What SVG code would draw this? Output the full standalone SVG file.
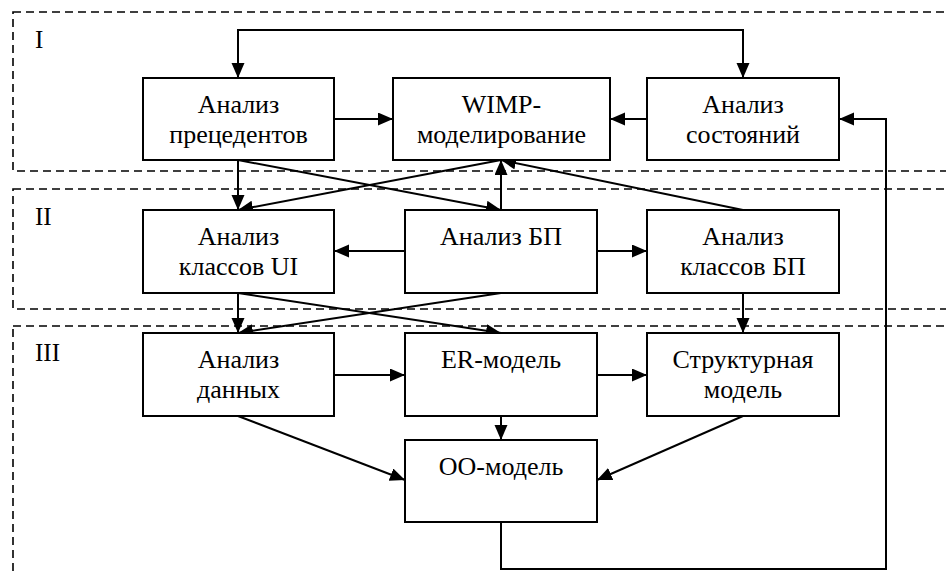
<svg xmlns="http://www.w3.org/2000/svg" width="946" height="576" viewBox="0 0 946 576">
<defs>
<marker id="arr" markerUnits="userSpaceOnUse" markerWidth="16" markerHeight="14" refX="15" refY="6.5" orient="auto-start-reverse">
<path d="M0,0 L15,6.5 L0,13 z" fill="#000"/>
</marker>
<style>
.zone{fill:none;stroke:#000;stroke-width:1.6;stroke-dasharray:8,5}
.box{fill:#fff;stroke:#000;stroke-width:2}
.c{fill:none;stroke:#000;stroke-width:2;marker-end:url(#arr)}
text{font-family:"Liberation Serif","DejaVu Serif",serif;font-size:26px;fill:#000}
.z{font-size:25px}
.t{text-anchor:middle}
</style>
</defs>
<rect width="946" height="576" fill="#fff"/>
<g id="zones">
<rect class="zone" x="13" y="12" width="960" height="159"/>
<rect class="zone" x="13" y="189" width="960" height="120"/>
<rect class="zone" x="13" y="326" width="960" height="300"/>
<text class="z" x="35" y="48">I</text>
<text class="z" x="35" y="225">II</text>
<text class="z" x="35" y="361">III</text>
</g>
<g id="connectors">
<path class="c" d="M238,78 V30 H743 V78" marker-start="url(#arr)"/>
<path class="c" d="M334,119 H393"/>
<path class="c" d="M647,119 H610"/>
<path class="c" d="M501,522 V569 H886 V119 H839"/>
<path class="c" d="M238,160 V210"/>
<path class="c" d="M238,160 L501,210"/>
<path class="c" d="M501,160 L238,210"/>
<path class="c" d="M501,210 V160"/>
<path class="c" d="M743,210 L501,160"/>
<path class="c" d="M405,251 H334"/>
<path class="c" d="M597,251 H647"/>
<path class="c" d="M238,293 V333"/>
<path class="c" d="M238,293 L501,333"/>
<path class="c" d="M501,293 L238,333"/>
<path class="c" d="M743,293 V333"/>
<path class="c" d="M334,375 H405"/>
<path class="c" d="M597,375 H647"/>
<path class="c" d="M501,416 V440"/>
<path class="c" d="M238,416 L405,480"/>
<path class="c" d="M743,416 L597,480"/>
</g>
<g id="n-precedents">
<rect class="box" x="143" y="78" width="191" height="82"/>
<text class="t" x="238.5" y="113">Анализ</text>
<text class="t" x="238.5" y="143">прецедентов</text>
</g>
<g id="n-wimp">
<rect class="box" x="393" y="78" width="217" height="82"/>
<text class="t" x="501.5" y="113">WIMP-</text>
<text class="t" x="501.5" y="143">моделирование</text>
</g>
<g id="n-states">
<rect class="box" x="647" y="78" width="192" height="82"/>
<text class="t" x="743" y="113">Анализ</text>
<text class="t" x="743" y="143">состояний</text>
</g>
<g id="n-ui">
<rect class="box" x="143" y="210" width="191" height="83"/>
<text class="t" x="238.5" y="245">Анализ</text>
<text class="t" x="238.5" y="275">классов UI</text>
</g>
<g id="n-bp">
<rect class="box" x="405" y="210" width="192" height="83"/>
<text class="t" x="501" y="245">Анализ БП</text>
</g>
<g id="n-bpclasses">
<rect class="box" x="647" y="210" width="192" height="83"/>
<text class="t" x="743" y="245">Анализ</text>
<text class="t" x="743" y="275">классов БП</text>
</g>
<g id="n-data">
<rect class="box" x="143" y="333" width="191" height="83"/>
<text class="t" x="238.5" y="368">Анализ</text>
<text class="t" x="238.5" y="398">данных</text>
</g>
<g id="n-er">
<rect class="box" x="405" y="333" width="192" height="83"/>
<text class="t" x="501" y="368">ER-модель</text>
</g>
<g id="n-struct">
<rect class="box" x="647" y="333" width="192" height="83"/>
<text class="t" x="743" y="368">Структурная</text>
<text class="t" x="743" y="398">модель</text>
</g>
<g id="n-oo">
<rect class="box" x="405" y="440" width="192" height="82"/>
<text class="t" x="501" y="475">ОО-модель</text>
</g>
</svg>
